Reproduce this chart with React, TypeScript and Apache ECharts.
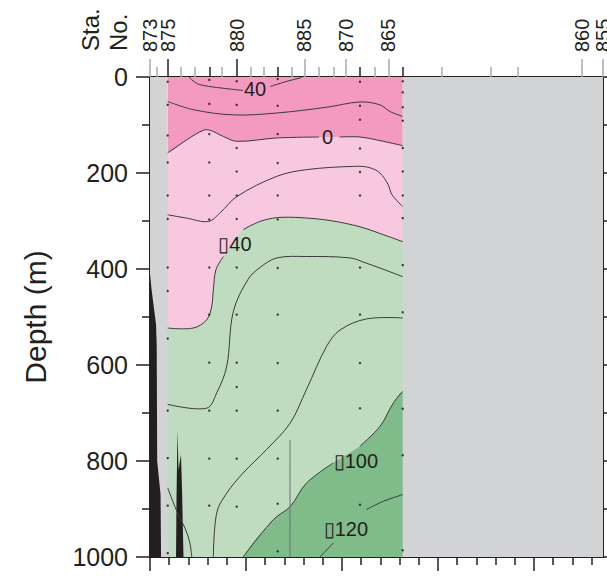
import React, { useEffect, useRef } from 'react';
import * as echarts from 'echarts';

const FONT = "'Liberation Sans', Arial, Helvetica, sans-serif";
const INK = '#231f20';
const GRAY_TICK = '#a7a9ac';
const LINE = '#3a3a3a';

const COLORS = {
  darkPink: '#f49ac1',
  lightPink: '#f8c9de',
  lightGreen: '#bfdcc0',
  midGreen: '#80bc8a',
  land: '#d1d3d4',
  floor: '#231f20',
};

// Axis extents (km along the section, depth in m)
const xMaxKm = 94.375;
const depthMax = 1000;
const depthMajor = 200;

// Bottom distance ticks
const distMajorKm = [0, 20, 40, 60, 80];
const distMinorKm = [4, 8, 12, 16, 24, 28, 32, 36, 44, 48, 52, 56, 64, 68, 72, 76, 84, 88, 92];

// Station markers on top axis
const grayLabeledKm = [0, 32.15, 40.77, 49.65, 89.94, 94.375];
const grayLabeledNames = ['873', '885', '870', '865', '860', '855'];
const blackLabeledKm = [3.69, 18.06];
const blackLabeledNames = ['875', '880'];
const blackShortKm = [12.35, 26.6, 43.75, 52.65];
const grayShortKm = [1.4, 6.4, 9.375, 14.94, 21.04, 23.75, 29.52, 35.2, 38.19, 46.875, 60.77, 70.98, 76.52];

// CTD casts: positions and sample depths
const ctdKm = [3.69, 12.35, 18.06, 26.6, 43.75, 52.65];
const ctdDepths = [
  [10, 58, 122, 178, 247, 296, 397, 446, 545, 695, 794, 893, 992],
  [6, 56, 119, 178, 247, 297, 397, 495, 595, 695, 795, 893],
  [9, 58, 148, 197, 247, 296, 397, 495, 595, 646, 695, 795, 895],
  [4, 60, 119, 179, 247, 297, 398, 495, 596, 695, 795, 889, 988],
  [10, 60, 89, 149, 198, 247, 397, 495, 596, 690, 891],
  [9, 32, 63, 91, 148, 197, 247, 294, 392, 490, 691, 788, 986],
];

// Contour lines [km, depth]
const c40a = [[8.2, 0], [8.7, 6], [10.4, 16], [17.4, 26], [19.4, 28]];
const c40b = [[25, 20], [28.5, 9], [31.25, 2], [31.7, 0]];
const c20 = [[3.69, 51], [9.0, 68], [17.4, 79], [26.4, 75], [36.8, 63], [43.75, 52], [47.9, 58], [50, 72], [52.65, 82]];
const c0a = [[3.69, 158], [7.65, 131], [11.1, 111], [12.5, 111], [15.3, 124], [18.1, 134], [26.4, 127], [35.2, 125]];
const c0b = [[39.5, 125], [43.75, 125], [48.6, 134], [52.65, 143]];
const cm20 = [[3.69, 287], [7.65, 294], [12.15, 301], [14.6, 283], [18.1, 249], [26.4, 207], [32.6, 193], [43.06, 186], [45.8, 189], [47.9, 200], [49.6, 224], [50.4, 245], [52.65, 270]];
const cm40a = [[3.69, 523], [9.0, 523], [11.8, 506], [12.85, 478], [13.2, 443], [13.75, 401], [15.3, 374]];
const cm40b = [[19.4, 318], [22.9, 301], [26.5, 293], [31.25, 293], [37.5, 299], [43.75, 312], [47.9, 326], [52.65, 343]];
const cm60 = [[3.69, 682], [11.8, 690], [13.9, 658], [15.98, 603], [17.35, 489], [20.4, 422], [22.9, 397], [26.4, 377], [32.6, 374], [41.7, 377], [45.1, 388], [47.9, 398], [52.65, 416]];
const cm80 = [[13.2, 1000], [13.9, 908], [15.98, 867], [19.4, 825], [24.3, 776], [29.2, 721], [32.6, 651], [36.8, 561], [39.6, 527], [45.1, 504], [52.65, 502]];
const cm100a = [[19.4, 1000], [25.7, 922], [29.2, 895], [32.6, 846], [38.2, 804]];
const cm100b = [[43.75, 769], [47.9, 728], [50.7, 679], [52.65, 655]];
const cm120a = [[35.4, 1000], [38.2, 971]];
const cm120b = [[45.1, 901], [48.6, 884], [52.65, 870]];
const cLowLeft = [[3.69, 856], [5.6, 905], [7.3, 940], [8.3, 970], [8.7, 1000]];
const cVertical = [[29.17, 756], [29.17, 1000]];

// Contour labels
const labelTexts = ['40', '0', '▯40', '▯100', '▯120'];
const labelKm = [21.9, 37.0, 17.7, 42.9, 40.8];
const labelDepth = [25, 125, 348, 800, 941];

// Sea floor (black)
const floorMain = [[0, 410], [0.35, 445], [0.8, 480], [1.25, 515], [1.4, 560], [1.5, 800], [1.9, 840], [2.2, 870], [2.3, 1000], [0, 1000]];
const floorSpike = [[5.42, 1000], [5.52, 880], [5.73, 735], [5.94, 818], [6.46, 787], [6.67, 860], [6.98, 1000]];

const band = (boundary: number[][], left: number, right: number, bottom: number) => [
  [left, boundary[0][1]],
  ...boundary,
  [right, boundary[boundary.length - 1][1]],
  [right, bottom],
  [left, bottom],
];

const dataLeft = ctdKm[0];
const dataRight = ctdKm[ctdKm.length - 1];

const fills = [
  { pts: [[dataLeft, 0], [dataRight, 0], [dataRight, depthMax], [dataLeft, depthMax]], color: COLORS.darkPink, smooth: 0 },
  { pts: band([...c0a, ...c0b], -2, 58, 1040), color: COLORS.lightPink, smooth: 0.35 },
  { pts: band([...cm40a, ...cm40b], -2, 58, 1040), color: COLORS.lightGreen, smooth: 0.35 },
  { pts: [[19.0, 1040], ...cm100a, ...cm100b, [58, 655], [58, 1040]], color: COLORS.midGreen, smooth: 0.35 },
];

const overlays = [
  { pts: [[0, 0], [dataLeft, 0], [dataLeft, depthMax], [0, depthMax]], color: COLORS.land },
  { pts: [[dataRight, 0], [xMaxKm, 0], [xMaxKm, depthMax], [dataRight, depthMax]], color: COLORS.land },
  { pts: floorMain, color: COLORS.floor },
  { pts: floorSpike, color: COLORS.floor },
];

const lines = [
  { pts: c40a, color: LINE, w: 1 },
  { pts: c40b, color: LINE, w: 1 },
  { pts: c20, color: LINE, w: 1 },
  { pts: c0a, color: LINE, w: 1 },
  { pts: c0b, color: LINE, w: 1 },
  { pts: cm20, color: LINE, w: 1 },
  { pts: cm40a, color: LINE, w: 1 },
  { pts: cm40b, color: LINE, w: 1 },
  { pts: cm60, color: LINE, w: 1 },
  { pts: cm80, color: LINE, w: 1 },
  { pts: cm100a, color: LINE, w: 1 },
  { pts: cm100b, color: LINE, w: 1 },
  { pts: cm120a, color: LINE, w: 1 },
  { pts: cm120b, color: LINE, w: 1 },
  { pts: cLowLeft, color: LINE, w: 1 },
  { pts: cVertical, color: '#6d6e71', w: 1 },
];

const dots: number[][] = [];
ctdKm.forEach((x, i) => ctdDepths[i].forEach((d) => dots.push([x, d])));

const topAxis = (ticks: number[], color: string, len: number, showLine: boolean) => ({
  type: 'value',
  position: 'top',
  min: 0,
  max: xMaxKm,
  offset: 0,
  axisLine: { show: showLine, onZero: false, lineStyle: { color: INK, width: 2 } },
  axisTick: { show: true, length: len, customValues: ticks, lineStyle: { color, width: 1.5 } },
  axisLabel: { show: false },
  splitLine: { show: false },
});

const bottomAxis = (ticks: number[], len: number, showLine: boolean) => ({
  type: 'value',
  position: 'bottom',
  min: 0,
  max: xMaxKm,
  offset: 0,
  axisLine: { show: showLine, onZero: false, lineStyle: { color: INK, width: 2 } },
  axisTick: { show: true, length: len, customValues: ticks, lineStyle: { color: INK, width: 1.5 } },
  axisLabel: { show: false },
  splitLine: { show: false },
});

const vText = (id: string, text: string, x: number, y: number, size: number, align: string) => ({
  type: 'text',
  id,
  x,
  y,
  rotation: Math.PI / 2,
  silent: true,
  style: {
    text,
    fontSize: size,
    fontFamily: FONT,
    fill: INK,
    align,
    verticalAlign: 'middle',
    textAlign: align,
    textVerticalAlign: 'middle',
  },
});

export default function App() {
  const ref = useRef<HTMLDivElement>(null);
  useEffect(() => {
    if (!ref.current) return;
    const chart = echarts.init(ref.current, undefined, { renderer: 'svg' });
    const option: any = {
      animation: false,
      backgroundColor: '#ffffff',
      grid: { left: 150, top: 77, width: 453, height: 480, containLabel: false },
      xAxis: [
        bottomAxis(distMajorKm, 14, true),
        bottomAxis(distMinorKm, 8, false),
        topAxis(grayLabeledKm, GRAY_TICK, 18, true),
        topAxis(grayShortKm, GRAY_TICK, 10, false),
        topAxis(blackLabeledKm, INK, 18, false),
        topAxis(blackShortKm, INK, 10, false),
      ],
      yAxis: [
        {
          type: 'value',
          position: 'left',
          inverse: true,
          min: 0,
          max: depthMax,
          interval: depthMajor,
          axisLine: { show: true, onZero: false, lineStyle: { color: INK, width: 2 } },
          axisTick: { show: true, length: 14, lineStyle: { color: INK, width: 1.5 } },
          minorTick: { show: true, splitNumber: 2, length: 8, lineStyle: { color: INK, width: 1.5 } },
          axisLabel: {
            show: true,
            fontSize: 25,
            margin: 22,
            color: INK,
            fontFamily: FONT,
            formatter: (v: number) => String(v),
          },
          splitLine: { show: false },
          minorSplitLine: { show: false },
        },
        {
          type: 'value',
          position: 'right',
          inverse: true,
          min: 0,
          max: depthMax,
          interval: 100,
          axisLine: { show: true, onZero: false, lineStyle: { color: INK, width: 2 } },
          axisTick: { show: true, length: 8, lineStyle: { color: INK, width: 1.5 } },
          axisLabel: { show: false },
          splitLine: { show: false },
        },
      ],
      graphic: [
        vText('sta', 'Sta.', 90, 51, 24, 'left'),
        vText('no', 'No.', 118, 51, 24, 'left'),
        vText('depth', 'Depth (m)', 35, 317, 30, 'center'),
      ],
      series: [
        {
          type: 'custom',
          coordinateSystem: 'cartesian2d',
          xAxisIndex: 0,
          yAxisIndex: 0,
          clip: true,
          silent: true,
          z: 1,
          data: fills.map((_, i) => [10, 10, i]),
          encode: { x: 0, y: 1 },
          renderItem: (params: any, api: any) => {
            const f = fills[params.dataIndex];
            return {
              type: 'polygon',
              shape: { points: f.pts.map((p) => api.coord(p)), smooth: f.smooth },
              style: { fill: f.color, stroke: null },
            };
          },
        },
        {
          type: 'custom',
          coordinateSystem: 'cartesian2d',
          xAxisIndex: 0,
          yAxisIndex: 0,
          clip: true,
          silent: true,
          z: 2,
          data: overlays.map((_, i) => [10, 10, i]),
          encode: { x: 0, y: 1 },
          renderItem: (params: any, api: any) => {
            const f = overlays[params.dataIndex];
            return {
              type: 'polygon',
              shape: { points: f.pts.map((p) => api.coord(p)) },
              style: { fill: f.color, stroke: null },
            };
          },
        },
        {
          type: 'custom',
          coordinateSystem: 'cartesian2d',
          xAxisIndex: 0,
          yAxisIndex: 0,
          clip: true,
          silent: true,
          z: 3,
          data: lines.map((_, i) => [10, 10, i]),
          encode: { x: 0, y: 1 },
          renderItem: (params: any, api: any) => {
            const l = lines[params.dataIndex];
            return {
              type: 'polyline',
              shape: { points: l.pts.map((p) => api.coord(p)), smooth: 0.35 },
              style: { fill: 'none', stroke: l.color, lineWidth: l.w },
            };
          },
        },
        {
          type: 'scatter',
          xAxisIndex: 0,
          yAxisIndex: 0,
          z: 4,
          silent: true,
          symbol: 'circle',
          symbolSize: 2.4,
          itemStyle: { color: '#111111' },
          data: dots,
        },
        {
          type: 'custom',
          coordinateSystem: 'cartesian2d',
          xAxisIndex: 0,
          yAxisIndex: 0,
          silent: true,
          z: 5,
          data: labelTexts.map((_, i) => [labelKm[i], labelDepth[i], i]),
          encode: { x: 0, y: 1 },
          renderItem: (params: any, api: any) => {
            const i = params.dataIndex;
            const p = api.coord([labelKm[i], labelDepth[i]]);
            return {
              type: 'text',
              x: p[0],
              y: p[1],
              style: {
                text: labelTexts[i],
                fontSize: 20,
                fontFamily: FONT,
                fill: INK,
                align: 'center',
                verticalAlign: 'middle',
                textAlign: 'center',
                textVerticalAlign: 'middle',
              },
            };
          },
        },
      ],
    };
    chart.setOption(option);

    // Station number labels, placed through the distance axis scale
    const stationKm = [...grayLabeledKm, ...blackLabeledKm];
    const stationNames = [...grayLabeledNames, ...blackLabeledNames];
    const stationTexts = stationKm.map((km, i) => {
      const px = chart.convertToPixel({ xAxisIndex: 0 }, km) as number;
      return vText('st' + i, stationNames[i], px, 52, 20, 'left');
    });
    chart.setOption({ graphic: stationTexts });

    return () => chart.dispose();
  }, []);
  return (
    <div
      ref={ref}
      style={{ position: 'fixed', left: 0, top: 0, width: 607, height: 577, background: '#fff' }}
    />
  );
}
